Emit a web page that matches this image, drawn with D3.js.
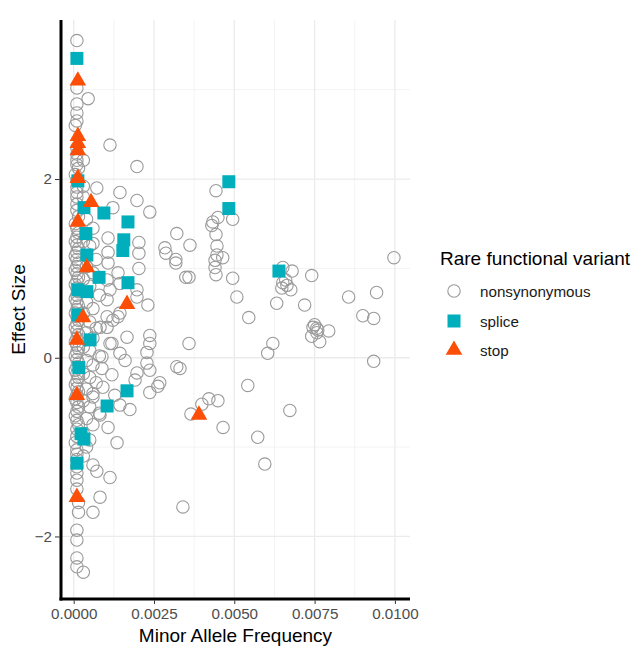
<!DOCTYPE html>
<html>
<head>
<meta charset="utf-8">
<script src="https://d3js.org/d3.v7.min.js"></script>
<style>
  body { margin: 0; background: #fff; }
  svg text { font-family: "Liberation Sans", Arial, sans-serif; }
</style>
</head>
<body>
<div class="viz"></div>
<script type="text/javascript">

// series: [minor allele frequency, effect size]
var categories = ["nonsynonymous", "splice", "stop"];

var nonsynonymous = [
  // near-zero MAF column
  [0.0001,3.55],[0.0001,3.02],[0.00045,2.90],[0.0001,2.84],[0.0001,2.74],[0.0001,2.65],[0.00005,2.60],
  [0.0001,2.35],[0.0001,2.28],[0.0001,2.21],[0.0003,2.21],[0.0001,2.16],[0.00015,2.12],[0.00005,2.05],
  [0.0001,1.98],[0.0001,1.91],[0.0003,1.92],[0.0001,1.85],[0.0001,1.80],[0.0003,1.80],[0.0001,1.72],
  [0.0001,1.65],[0.00015,1.58],[0.00005,1.50],[0.0001,1.45],[0.00015,1.40],[0.0001,1.35],[0.00005,1.30],
  [0.0001,1.26],[0.00015,1.22],[0.0001,1.18],[0.00005,1.14],[0.0001,1.10],[0.00015,1.06],[0.0001,1.02],
  [0.00005,0.98],[0.0001,0.94],[0.00015,0.90],[0.0001,0.86],[0.00005,0.82],[0.0001,0.78],[0.00015,0.74],
  [0.0001,0.70],[0.00005,0.66],[0.0001,0.62],[0.00015,0.58],[0.0001,0.54],[0.00005,0.50],[0.0001,0.46],
  [0.00015,0.42],[0.0001,0.38],[0.00005,0.34],[0.0001,0.30],[0.00015,0.26],[0.0001,0.22],[0.00005,0.18],
  [0.0001,0.14],[0.00015,0.10],[0.0001,0.06],[0.00005,0.02],[0.0001,-0.02],[0.00015,-0.06],[0.0001,-0.10],
  [0.00005,-0.14],[0.0001,-0.18],[0.00015,-0.22],[0.0001,-0.26],[0.00005,-0.30],[0.0001,-0.34],[0.00015,-0.38],
  [0.0001,-0.42],[0.00005,-0.46],[0.0001,-0.50],[0.00015,-0.55],[0.0001,-0.60],[0.00005,-0.65],[0.0001,-0.70],
  [0.00015,-0.75],[0.0001,-0.80],[0.0001,-0.88],[0.00005,-0.95],[0.0001,-1.03],[0.0001,-1.08],[0.0001,-1.14],
  [0.0001,-1.22],[0.0001,-1.29],[0.0001,-1.37],[0.0001,-1.47],[0.00015,-1.62],[0.00015,-1.73],[0.0001,-1.93],
  [0.0001,-2.04],[0.0001,-2.24],[0.0001,-2.34],[0.0003,-2.40],
  // second column
  [0.0004,1.55],[0.0006,1.45],[0.0003,1.30],[0.0005,1.25],[0.0007,1.10],[0.0004,1.02],[0.0006,0.95],
  [0.0003,0.88],[0.0005,0.80],[0.0008,0.70],[0.0004,0.62],[0.0006,0.55],[0.0003,0.50],[0.0005,0.40],
  [0.0007,0.33],[0.0004,0.28],[0.0006,0.22],[0.0003,0.12],[0.0005,0.08],[0.0008,0.02],[0.0004,-0.03],
  [0.0006,-0.08],[0.0003,-0.18],[0.0005,-0.22],[0.0007,-0.28],[0.0004,-0.35],[0.0006,-0.40],[0.0003,-0.48],
  [0.0005,-0.55],[0.0008,-0.62],[0.0004,-0.68],[0.0006,-0.75],[0.0003,-0.85],[0.0005,-0.92],[0.0004,-1.00],
  [0.0003,-1.10],[0.0006,-1.20],[0.0006,1.28],
  // third column
  [0.00113,2.38],[0.00197,2.14],[0.00072,1.90],[0.00144,1.85],[0.00197,1.76],[0.00237,1.63],[0.00122,1.68],
  [0.00107,1.34],[0.00107,1.18],[0.00107,1.06],[0.00203,1.29],[0.00203,1.17],[0.00203,1.00],[0.00138,0.95],
  [0.00104,0.87],[0.00144,0.83],[0.00197,0.76],[0.00113,0.76],[0.00197,0.68],[0.00104,0.65],[0.00231,0.59],
  [0.00144,0.50],[0.00138,0.46],[0.00104,0.46],[0.00122,0.42],[0.00082,0.34],[0.00104,0.34],[0.00166,0.23],
  [0.00237,0.25],[0.00119,0.16],[0.00113,0.16],[0.00237,0.16],[0.00228,0.06],[0.00144,0.05],[0.00088,0.01],
  [0.0016,-0.03],[0.00228,-0.06],[0.00088,-0.12],[0.00237,-0.14],[0.00321,-0.10],[0.00197,-0.17],[0.00119,-0.19],
  [0.00191,-0.25],[0.00268,-0.28],[0.00262,-0.32],[0.00091,-0.33],[0.00237,-0.39],[0.00128,-0.42],[0.0006,-0.44],
  [0.00144,-0.53],[0.00175,-0.58],[0.00082,-0.64],[0.00107,-0.78],[0.00135,-0.95],[0.00072,-1.27],[0.00113,-1.34],
  [0.00082,-1.56],[0.0006,-1.73],
  // middle
  [0.00443,1.87],[0.00433,1.52],[0.00449,1.57],[0.00495,1.55],[0.0043,1.48],[0.00321,1.39],[0.00443,1.38],
  [0.00362,1.26],[0.00446,1.25],[0.00284,1.23],[0.00287,1.17],[0.00318,1.10],[0.00318,1.06],[0.00446,1.15],
  [0.0044,1.09],[0.00464,1.12],[0.0044,1.01],[0.00443,0.93],[0.00349,0.90],[0.00359,0.90],[0.00495,0.89],
  [0.00508,0.68],[0.00545,0.45],[0.00632,0.61],[0.00359,0.16],[0.0062,0.16],[0.00604,0.05],[0.00331,-0.12],
  [0.00542,-0.31],[0.00421,-0.46],[0.00449,-0.48],[0.00399,-0.52],[0.00365,-0.63],[0.00465,-0.78],
  [0.00573,-0.89],[0.00595,-1.19],[0.0034,-1.67],[0.00673,-0.59],
  // right
  [0.00651,1.01],[0.00651,0.84],[0.00648,0.78],[0.00664,0.81],[0.0068,0.97],[0.0066,0.87],[0.00676,0.76],
  [0.00741,0.92],[0.00719,0.59],[0.00997,1.12],[0.00856,0.68],[0.00943,0.73],[0.009,0.47],[0.00934,0.44],
  [0.00745,0.34],[0.00757,0.33],[0.0075,0.37],[0.00741,0.24],[0.00766,0.18],[0.00794,0.30],[0.00757,0.28],
  [0.0076,0.31],[0.00934,-0.04]
];

var splice = [
  [0.0001,3.35],[0.00013,1.98],[0.00032,1.68],[0.00094,1.62],[0.00169,1.52],[0.00038,1.39],[0.00156,1.32],
  [0.00153,1.20],[0.00041,1.15],[0.00079,0.90],[0.00169,0.84],[0.00013,0.76],[0.00041,0.74],[0.00013,0.48],
  [0.00051,0.20],[0.00016,-0.11],[0.00166,-0.37],[0.00104,-0.54],[0.00023,-0.85],[0.00032,-0.91],
  [0.0001,-1.18],[0.00483,1.97],[0.00483,1.67],[0.00639,0.97]
];

var stop = [
  [0.00013,3.10],[0.00013,2.48],[0.00013,2.40],[0.00013,2.32],[0.00013,2.01],[0.00054,1.74],[0.00013,1.52],
  [0.00041,1.01],[0.00166,0.60],[0.00029,0.45],[0.0001,0.20],[0.0001,-0.42],[0.0001,-1.56],[0.0039,-0.64]
];

var xTicks = [0, 0.0025, 0.005, 0.0075, 0.01];
var xTickLabels = ["0.0000", "0.0025", "0.0050", "0.0075", "0.0100"];
var xMinor = [0.00125, 0.00375, 0.00625, 0.00875];
var yTicks = [-2, 0, 2];
var yMinor = [-1, 1, 3];

(function() {
var W = 637, H = 646;
var mLeft = 61, mRight = 410, mTop = 20, mBottom = 599;

var svg = d3.select('.viz').append('svg')
    .attr('width', W).attr('height', H);

var x = d3.scaleLinear().domain([-0.000395, 0.01047]).range([mLeft, mRight]);
var y = d3.scaleLinear().domain([-2.70, 3.78]).range([mBottom, mTop]);

// grid
var grid = svg.append('g');
grid.selectAll('.vminor').data(xMinor).enter().append('line')
    .attr('x1', x).attr('x2', x).attr('y1', mTop).attr('y2', mBottom)
    .style('stroke', '#f3f3f3').style('stroke-width', 1);
grid.selectAll('.hminor').data(yMinor).enter().append('line')
    .attr('x1', mLeft).attr('x2', mRight).attr('y1', y).attr('y2', y)
    .style('stroke', '#f3f3f3').style('stroke-width', 1);
grid.selectAll('.vmajor').data(xTicks).enter().append('line')
    .attr('x1', x).attr('x2', x).attr('y1', mTop).attr('y2', mBottom)
    .style('stroke', '#ebebeb').style('stroke-width', 1.3);
grid.selectAll('.hmajor').data(yTicks).enter().append('line')
    .attr('x1', mLeft).attr('x2', mRight).attr('y1', y).attr('y2', y)
    .style('stroke', '#ebebeb').style('stroke-width', 1.3);

// points
svg.append('g').selectAll('circle').data(nonsynonymous).enter().append('circle')
    .attr('cx', function(d){ return x(d[0]); })
    .attr('cy', function(d){ return y(d[1]); })
    .attr('r', 6.2)
    .style('fill', 'none').style('stroke', '#9a9a9a').style('stroke-width', 1.1);

var sq = d3.symbol().type(d3.symbolSquare).size(169);
svg.append('g').selectAll('path').data(splice).enter().append('path')
    .attr('d', sq)
    .attr('transform', function(d){ return 'translate(' + x(d[0]) + ',' + y(d[1]) + ')'; })
    .style('fill', '#00AFBB');

var tri = d3.symbol().type(d3.symbolTriangle).size(120);
svg.append('g').selectAll('path').data(stop).enter().append('path')
    .attr('d', tri)
    .attr('transform', function(d){ return 'translate(' + x(d[0]) + ',' + y(d[1]) + ')'; })
    .style('fill', '#FC4E07');

// axes
var xAxis = d3.axisBottom(x).tickValues(xTicks)
    .tickFormat(function(d, i){ return xTickLabels[i]; }).tickSize(4).tickSizeOuter(0).tickPadding(4);
var yAxis = d3.axisLeft(y).tickValues(yTicks)
    .tickFormat(function(d){ return d < 0 ? '\u2212' + Math.abs(d) : d; }).tickSize(4).tickSizeOuter(0).tickPadding(4);

var gx = svg.append('g').attr('transform', 'translate(0,' + mBottom + ')').call(xAxis);
var gy = svg.append('g').attr('transform', 'translate(' + mLeft + ',0)').call(yAxis);
[gx, gy].forEach(function(g){
  g.select('.domain').remove();
  g.selectAll('.tick line').style('stroke', '#333').style('stroke-width', 1);
  g.selectAll('.tick text').style('fill', '#4d4d4d').style('font-size', '15.2px');
});
gx.selectAll('.tick line').attr('y1', 1.5).attr('y2', 5);
gy.selectAll('.tick line').attr('x1', -1.5).attr('x2', -6);
gy.selectAll('.tick text').attr('x', -9);
gx.selectAll('.tick text').attr('y', 9);

svg.append('line').attr('x1', mLeft).attr('x2', mLeft).attr('y1', mTop).attr('y2', mBottom + 1.5)
    .style('stroke', '#000').style('stroke-width', 3);
svg.append('line').attr('x1', mLeft - 1.5).attr('x2', mRight).attr('y1', mBottom).attr('y2', mBottom)
    .style('stroke', '#000').style('stroke-width', 3);

// axis titles
svg.append('text').attr('x', (mLeft + mRight) / 2).attr('y', 642)
    .attr('text-anchor', 'middle').style('font-size', '19px').text('Minor Allele Frequency');
svg.append('text').attr('transform', 'translate(25,' + ((mTop + mBottom) / 2) + ') rotate(-90)')
    .attr('text-anchor', 'middle').style('font-size', '19px').text('Effect Size');

// legend
var lg = svg.append('g');
lg.append('text').attr('x', 440).attr('y', 265).style('font-size', '19px').text('Rare functional variant');
var keyY = [291, 321, 350];
lg.append('circle').attr('cx', 454).attr('cy', keyY[0]).attr('r', 6.2)
    .style('fill', 'none').style('stroke', '#9a9a9a').style('stroke-width', 1.1);
lg.append('path').attr('d', sq).attr('transform', 'translate(454,' + keyY[1] + ')').style('fill', '#00AFBB');
lg.append('path').attr('d', tri).attr('transform', 'translate(454,' + keyY[2] + ')').style('fill', '#FC4E07');
lg.selectAll('.lab').data(categories).enter().append('text')
    .attr('x', 480).attr('y', function(d, i){ return keyY[i] + 5.5; })
    .style('font-size', '15.2px').style('fill', '#1a1a1a').text(function(d){ return d; });
})();

</script>
</body>
</html>
